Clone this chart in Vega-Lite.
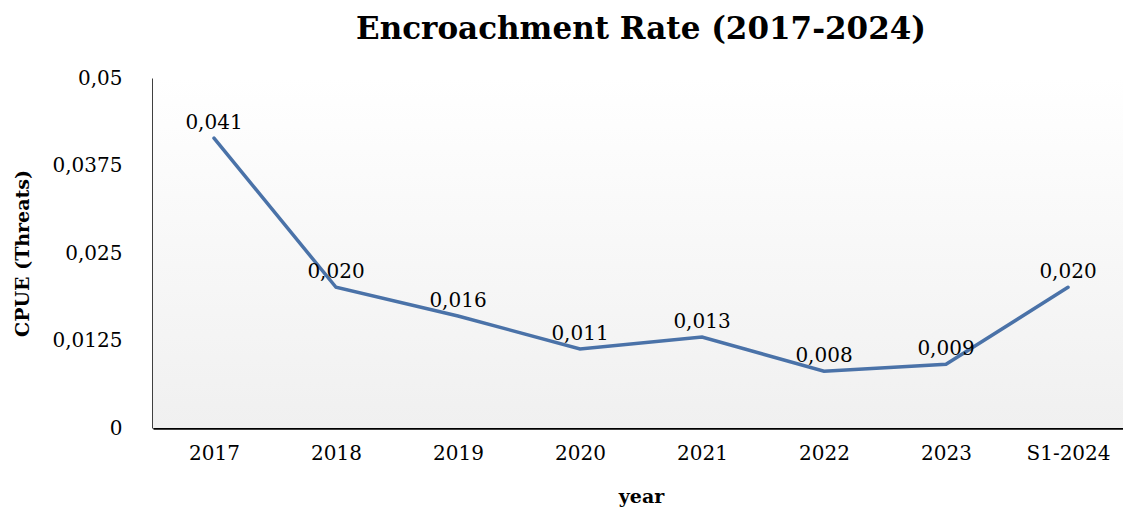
{
  "$schema": "https://vega.github.io/schema/vega-lite/v6.json",
  "autosize": "none",
  "width": 976,
  "height": 350,
  "padding": {"left": 153, "top": 78, "right": 0, "bottom": 84},
  "background": "#ffffff",
  "config": {
    "locale": {"number": {"decimal": ",", "thousands": ".", "grouping": [3], "currency": ["", " €"]}},
    "view": {"stroke": null},
    "font": "DejaVu Serif",
    "axis": {
      "domainColor": "#000000",
      "domainWidth": 2.5,
      "ticks": false,
      "grid": false,
      "labelFont": "DejaVu Serif",
      "labelFontSize": 20,
      "labelColor": "#000000",
      "titleFont": "DejaVu Serif",
      "titleFontWeight": "bold",
      "titleFontSize": 19,
      "titleColor": "#000000"
    }
  },
  "title": {
    "text": "Encroachment Rate (2017-2024)",
    "font": "DejaVu Serif",
    "fontSize": 31,
    "fontWeight": "bold",
    "color": "#000000",
    "anchor": "middle",
    "offset": 22
  },
  "layer": [
    {
      "data": {"values": [{"bg": 1}]},
      "mark": {
        "type": "rect",
        "color": {
          "gradient": "linear",
          "x1": 0, "y1": 0, "x2": 0, "y2": 1,
          "stops": [
            {"offset": 0, "color": "#ffffff"},
            {"offset": 1, "color": "#f0f0f0"}
          ]
        }
      },
      "encoding": {}
    },
    {
      "data": {"name": "main"},
      "mark": {"type": "line", "color": "#4a72a8", "strokeWidth": 3.5, "strokeCap": "round", "strokeJoin": "miter"},
      "encoding": {
        "x": {
          "field": "year", "type": "nominal", "sort": null,
          "scale": {"paddingInner": 0, "paddingOuter": 0.5},
          "axis": {"title": "year", "labelAngle": 0, "labelPadding": 15, "titlePadding": 24}
        },
        "y": {
          "field": "value", "type": "quantitative",
          "scale": {"domain": [0, 0.05], "nice": false},
          "axis": {
            "title": "CPUE (Threats)",
            "values": [0, 0.0125, 0.025, 0.0375, 0.05],
            "format": ".4~f",
            "labelPadding": 31,
            "titleX": -131,
            "titleY": 175,
            "titleAngle": -90,
            "titleBaseline": "middle"
          }
        }
      }
    },
    {
      "data": {"name": "main"},
      "mark": {"type": "text", "baseline": "alphabetic", "dy": -9, "font": "DejaVu Serif", "fontSize": 20, "color": "#000000"},
      "encoding": {
        "x": {"field": "year", "type": "nominal", "sort": null},
        "y": {"field": "value", "type": "quantitative"},
        "text": {"field": "value", "type": "quantitative", "format": ".3f"}
      }
    }
  ],
  "datasets": {
    "main": [
      {"year": "2017", "value": 0.0414},
      {"year": "2018", "value": 0.0201},
      {"year": "2019", "value": 0.016},
      {"year": "2020", "value": 0.0113},
      {"year": "2021", "value": 0.013},
      {"year": "2022", "value": 0.0081},
      {"year": "2023", "value": 0.0091},
      {"year": "S1-2024", "value": 0.0201}
    ]
  }
}
